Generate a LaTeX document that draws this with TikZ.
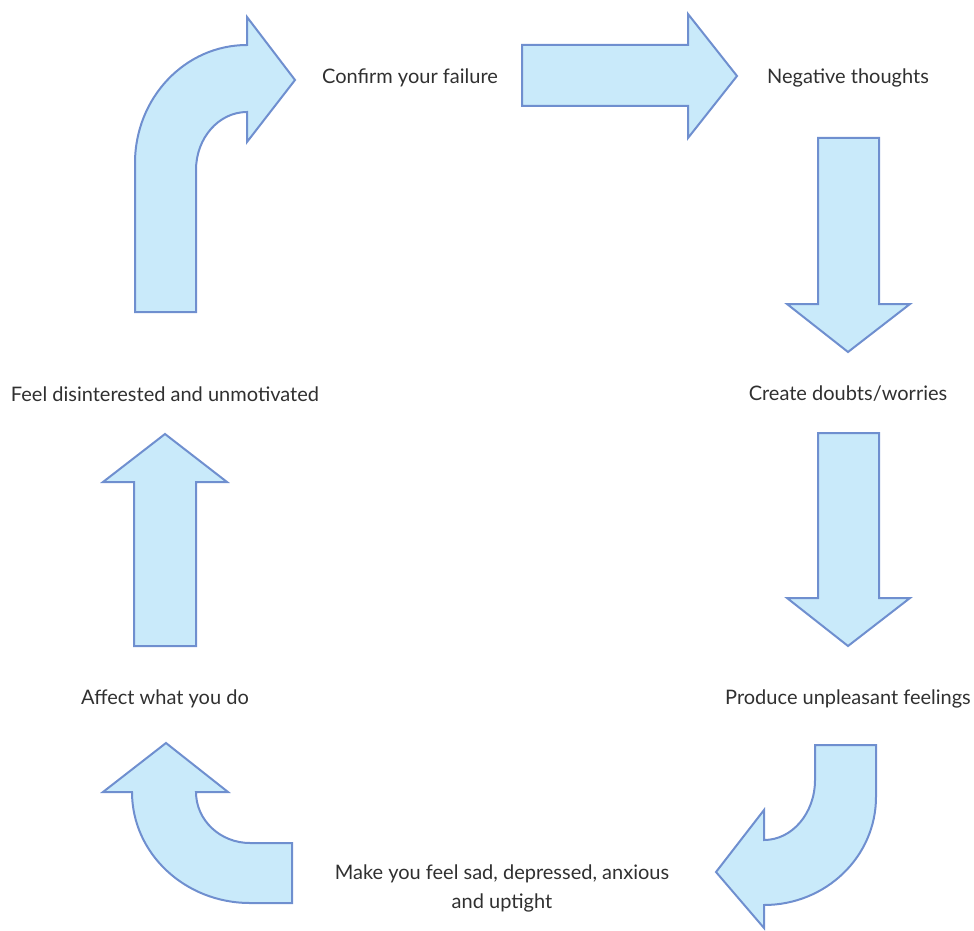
\documentclass[tikz,border=0pt]{standalone}
\usepackage{fontspec}
\setmainfont{Lato}
\definecolor{afill}{HTML}{C9EAFA}
\definecolor{aline}{HTML}{6F8FCF}
\definecolor{txt}{HTML}{303030}
\begin{document}
\begin{tikzpicture}[x=1pt,y=-1pt,
  arr/.style={fill=afill,draw=aline,line width=2pt,line join=miter},
  lbl/.style={text=txt,font=\fontsize{20}{29}\selectfont,inner sep=0pt,align=center}]
\useasboundingbox (0,0) rectangle (974,931);
% top right arrow
\draw[arr] (522,45) -- (688,45) -- (688,14) -- (737,76) -- (688,138) -- (688,106) -- (522,106) -- cycle;
% down arrow 1
\draw[arr] (818,138) -- (879,138) -- (879,304) -- (910,304) -- (848,352) -- (787,304) -- (818,304) -- cycle;
% down arrow 2
\draw[arr] (818,433) -- (879,433) -- (879,598) -- (910,598) -- (848,646) -- (787,598) -- (818,598) -- cycle;
% up arrow left
\draw[arr] (134,646) -- (196,646) -- (196,482) -- (227,482) -- (165,434) -- (103,482) -- (134,482) -- cycle;
% top-left curved arrow
\draw[arr] (135,312) -- (135,163) .. controls (135,97.8) and (185.1,45) .. (247,45)
  -- (247,17) -- (295,80) -- (247,142) -- (247,112)
  .. controls (218.8,112) and (196,138) .. (196,170) -- (196,312) -- cycle;
% bottom-right curved arrow
\draw[arr] (815,745) -- (876,745) -- (876,797)
  .. controls (876,856.6) and (825.9,905) .. (764,905)
  -- (764,928) -- (716,872) -- (764,810) -- (764,840)
  .. controls (792.2,840) and (815,813.1) .. (815,780) -- cycle;
% bottom-left curved arrow
\draw[arr] (292,903) -- (250,903)
  .. controls (184.8,903) and (132,853.3) .. (132,792)
  -- (103,792) -- (166,743) -- (228,792) -- (196,792)
  .. controls (196,820.2) and (220.2,843) .. (250,843)
  -- (292,843) -- cycle;
% labels
\node[lbl] (l1) at (410,78) {Confirm your failure};
\node[lbl] (l2) at (848,78) {Negative thoughts};
\node[lbl] (l3) at (848,394) {Create doubts/worries};
\node[lbl] (l4) at (848,699) {Produce unpleasant feelings};
\node[lbl] (l5) at (502,888) {Make you feel sad, depressed, anxious\\and uptight};
\node[lbl] (l6) at (165,699) {Affect what you do};
\node[lbl] (l7) at (165,394) {Feel disinterested and unmotivated};
\end{tikzpicture}
\end{document}
